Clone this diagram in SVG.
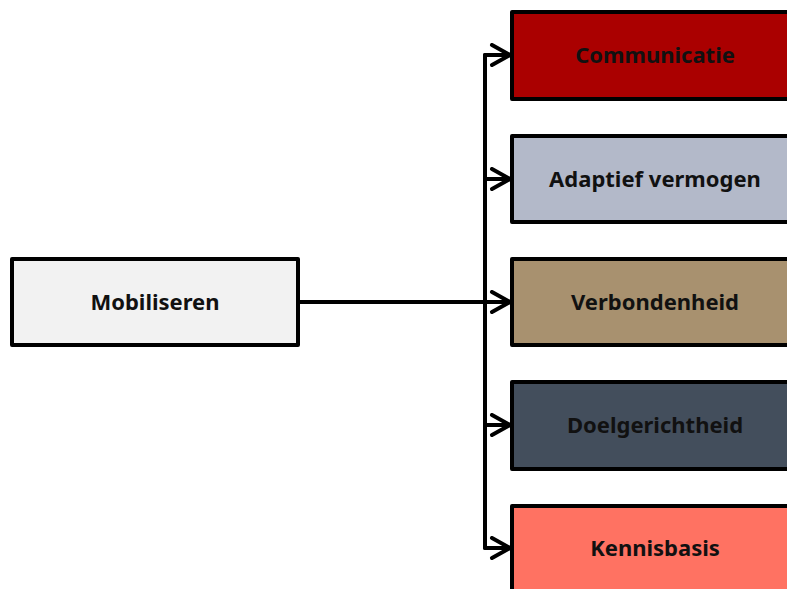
<svg xmlns="http://www.w3.org/2000/svg" width="787" height="589" viewBox="0 0 787 589">
<style>
.box{stroke:#000;stroke-width:4;stroke-linejoin:round}
.lbl{font-family:"Noto Sans","Open Sans","Liberation Sans",sans-serif;font-weight:bold;font-size:22px;fill:#111;text-anchor:middle}
.conn{fill:none;stroke:#000;stroke-width:4;stroke-linejoin:round;stroke-linecap:round}
</style>
<defs>
<marker id="arr" viewBox="0 0 24 24" markerWidth="24" markerHeight="24" refX="21" refY="12" markerUnits="userSpaceOnUse" orient="auto">
<path d="M3,2 L21,12 L3,22" fill="none" stroke="#000" stroke-width="4" stroke-linecap="round" stroke-linejoin="round"/>
</marker>
</defs>
<rect width="787" height="589" fill="#fff"/>
<g id="connectors">
<path class="conn" d="M298,302 L485,302"/>
<path class="conn" d="M485,55 L485,548"/>
<path class="conn" d="M485,55 L510,55" marker-end="url(#arr)"/>
<path class="conn" d="M485,179 L510,179" marker-end="url(#arr)"/>
<path class="conn" d="M485,302 L510,302" marker-end="url(#arr)"/>
<path class="conn" d="M485,425 L510,425" marker-end="url(#arr)"/>
<path class="conn" d="M485,548 L510,548" marker-end="url(#arr)"/>
</g>
<g id="mobiliseren">
<rect class="box" x="12" y="259" width="286" height="86" fill="#F2F2F2"/>
<text class="lbl" x="155" y="310">Mobiliseren</text>
</g>
<g id="communicatie">
<rect class="box" x="512" y="12" width="286" height="87" fill="#AA0000"/>
<text class="lbl" x="655" y="63">Communicatie</text>
</g>
<g id="adaptief">
<rect class="box" x="512" y="136" width="286" height="86" fill="#B3B9C9"/>
<text class="lbl" x="655" y="187">Adaptief vermogen</text>
</g>
<g id="verbondenheid">
<rect class="box" x="512" y="259" width="286" height="86" fill="#A8916F"/>
<text class="lbl" x="655" y="310">Verbondenheid</text>
</g>
<g id="doelgerichtheid">
<rect class="box" x="512" y="382" width="286" height="87" fill="#434E5C"/>
<text class="lbl" x="655" y="433">Doelgerichtheid</text>
</g>
<g id="kennisbasis">
<rect class="box" x="512" y="506" width="286" height="87" fill="#FF7262"/>
<text class="lbl" x="655" y="556">Kennisbasis</text>
</g>
</svg>
